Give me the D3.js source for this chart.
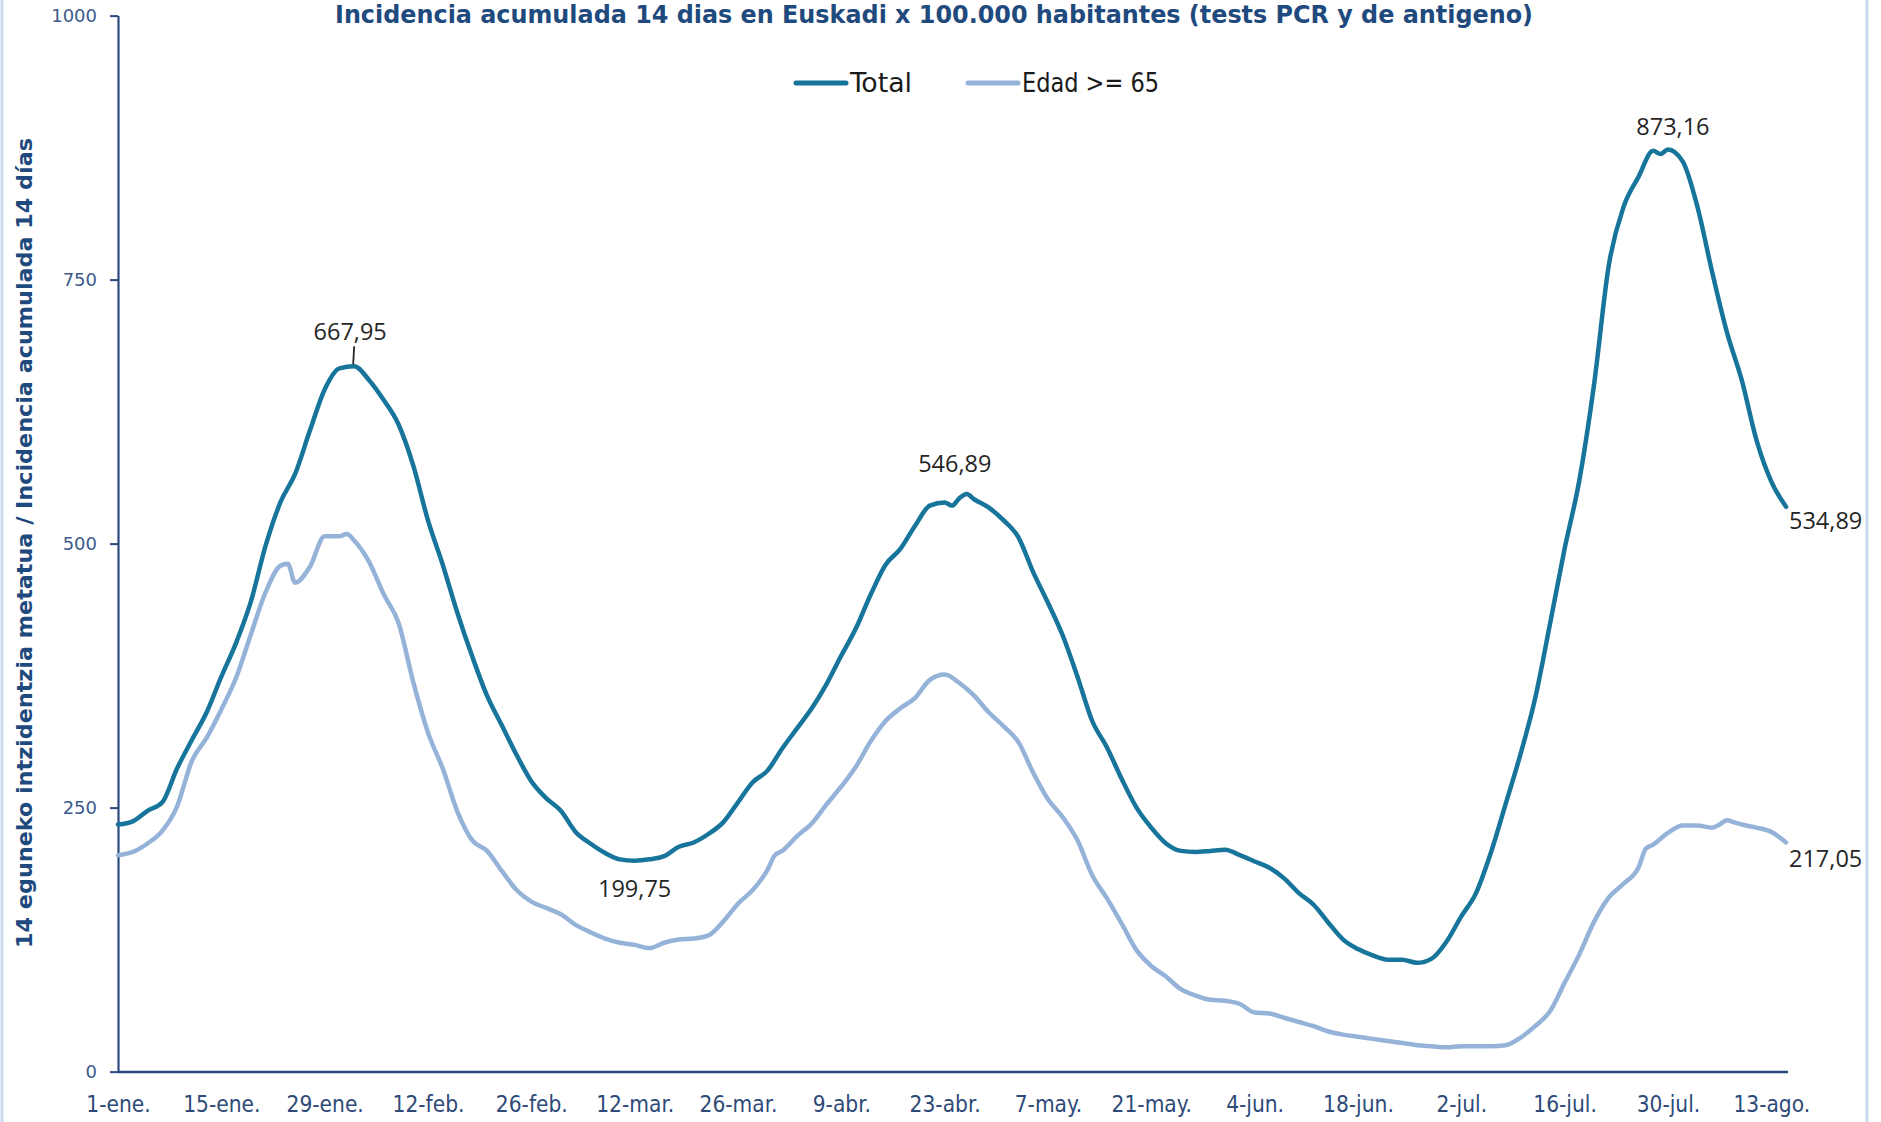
<!DOCTYPE html>
<html>
<head>
<meta charset="utf-8">
<script src="https://cdn.jsdelivr.net/npm/d3@7"></script>
<style>
html,body{margin:0;padding:0;background:#fff;}
svg{display:block;}
</style>
</head>
<body>
<svg id="chart" width="1881" height="1122"></svg>
<script>
// ---------- DATA ----------
const startDate = "2021-01-01";
const endDay = 226; // last day shown (15-ago)
const xTickLabels = ["1-ene.","15-ene.","29-ene.","12-feb.","26-feb.","12-mar.","26-mar.","9-abr.","23-abr.","7-may.","21-may.","4-jun.","18-jun.","2-jul.","16-jul.","30-jul.","13-ago."];
const yTickValues = [0, 250, 500, 750, 1000];

const seriesNames = ["Total", "Edad >= 65"];

// days since 1-ene and 14-day cumulative incidence, Total
const totalDays = [0,2,4,6,8,10,12,14,16,18,20,22,24,26,28,30,32,34,36,38,40,42,44,46,48,50,52,54,56,58,60,62,64,66,68,70,72,74,76,78,80,82,84,86,88,90,92,94,96,98,100,102,104,106,108,110,112,113,114,115,116,118,120,122,124,126,128,130,132,134,136,138,140,142,144,146,148,150,152,154,156,158,160,162,164,166,168,170,172,174,176,178,180,182,184,186,188,190,192,194,196,198,200,202,204,206,208,209,210,212,214,216,218,220,222,224,226];
const totalValues = [234,237,247,255,287,314,340,374,406,445,498,539,566,607,646,666,667.95,655,636,613,574,522,480,434,393,356,328,300,275,259,247,227,216,207,201,199.75,201,204,213,217,225,236,255,274,285,306,325,344,367,394,420,452,480,495,517,536,539,536,543,546.89,542,534,522,506,473,444,413,374,332,307,277,250,231,216,209,208,209,210,205,199,193,183,169,158,141,125,116,110,106,106,103,107,123,147,169,207,253,300,353,423,495,560,651,764,819,847,872,869,873.16,862,819,757,700,655,598,559,534.89];

// Edad >= 65
const over65Days = [0,2,4,6,8,10,12,14,16,18,20,22,23,24,26,28,30,31,32,34,36,38,40,42,44,46,48,50,52,54,56,58,60,62,64,66,68,70,72,74,76,78,80,82,84,86,88,89,90,92,94,96,98,100,102,104,106,108,110,112,114,116,118,120,122,124,126,128,130,132,134,136,138,140,142,144,146,148,150,152,154,156,158,160,162,164,166,168,170,172,174,176,178,180,182,184,186,188,190,192,194,196,198,200,202,204,206,207,208,210,212,214,216,217,218,219,220,222,224,226];
const over65Values = [205,208,216,228,251,294,316,343,373,414,454,479,481,463,478,507,507,509,503,483,452,425,369,321,287,246,219,209,190,172,161,155,149,139,132,126,122,120,117,122,125,126,129,142,159,172,191,205,209,223,235,253,270,289,313,332,344,354,371,376,368,356,340,327,312,283,258,241,219,186,164,140,115,100,90,78,72,68,67,64,56,55,51,47,43,38,35,33,31,29,27,25,24,23,24,24,24,25,32,43,57,84,111,142,165,178,193,211,215,226,233,233,231,234,238,236,234,231,227,217.05];

// labelled points
const annotDays   = [32, 70, 115, 210, 226, 226];
const annotValues = [667.95, 199.75, 546.89, 873.16, 534.89, 217.05];

const titleText = "Incidencia acumulada 14 dias en Euskadi x 100.000 habitantes (tests PCR y de antigeno)";
const yTitleText = "14 eguneko intzidentzia metatua / Incidencia acumulada 14 días";

// ---------- DRAW ----------
const svg = d3.select("#chart");
const parse = d3.timeParse("%Y-%m-%d");
const t0 = parse(startDate);
const toDate = d => d3.timeDay.offset(t0, d);

const x = d3.scaleTime().domain([t0, toDate(endDay)]).range([118, 1786]);
const y = d3.scaleLinear().domain([0, 1000]).range([1071.6, 15.6]);

const narrow = '"DejaVu Sans Condensed", "Liberation Sans Narrow", sans-serif';
const navy = "#1F4A7E";
const colTotal = "#17749B";
const col65 = "#95B3D9";
const colors = [colTotal, col65];

// outer border of chart area (left/right visible)
svg.append("line").attr("x1", 2).attr("x2", 2).attr("y1", 0).attr("y2", 1122)
  .attr("stroke", "#C9DAF0").attr("stroke-width", 3);
svg.append("line").attr("x1", 1867).attr("x2", 1867).attr("y1", 0).attr("y2", 1122)
  .attr("stroke", "#C9DAF0").attr("stroke-width", 3);

// title
svg.append("text").attr("x", 934).attr("y", 23)
  .attr("text-anchor", "middle")
  .attr("font-family", narrow).attr("font-weight", "bold").attr("font-size", 25)
  .attr("fill", navy)
  .attr("textLength", 1198).attr("lengthAdjust", "spacingAndGlyphs")
  .text(titleText);

// y axis title
svg.append("text")
  .attr("transform", "translate(32,543) rotate(-90)")
  .attr("text-anchor", "middle")
  .attr("font-family", narrow).attr("font-weight", "bold").attr("font-size", 22)
  .attr("fill", navy)
  .attr("textLength", 810).attr("lengthAdjust", "spacingAndGlyphs")
  .text(yTitleText);

// y axis
const yAxis = svg.append("g").attr("transform", "translate(118,0)")
  .call(d3.axisLeft(y).tickValues(yTickValues).tickSize(8).tickSizeOuter(0)
    .tickPadding(13).tickFormat(d3.format("d")));
yAxis.select(".domain").attr("stroke", "#2B4A7E").attr("stroke-width", 2.2);
yAxis.selectAll(".tick line").attr("stroke", "#2B4A7E").attr("stroke-width", 2);
yAxis.selectAll(".tick text")
  .attr("font-family", '"DejaVu Sans", sans-serif').attr("font-size", 18)
  .attr("fill", "#3C5A8C");

// x axis
const xTickDates = xTickLabels.map((_, i) => toDate(i * 14));
const xAxis = svg.append("g").attr("transform", "translate(0,1072)")
  .call(d3.axisBottom(x).tickValues(xTickDates).tickSize(0).tickSizeOuter(0)
    .tickPadding(24).tickFormat((d, i) => xTickLabels[i]));
xAxis.select(".domain").attr("stroke", "#2B4A7E").attr("stroke-width", 2.6)
  .attr("d", `M${x.range()[0]},0H${x.range()[1] + 2}`);
xAxis.selectAll(".tick text")
  .attr("font-family", narrow).attr("font-size", 22.5)
  .attr("fill", "#2E4A78");

// lines
const line = d3.line()
  .x(d => x(toDate(d[0])))
  .y(d => y(d[1]))
  .curve(d3.curveMonotoneX);

const seriesData = [
  totalDays.map((d, i) => [d, totalValues[i]]),
  over65Days.map((d, i) => [d, over65Values[i]])
];

svg.append("path").datum(seriesData[1])
  .attr("fill", "none").attr("stroke", col65).attr("stroke-width", 4.5)
  .attr("stroke-linejoin", "round").attr("stroke-linecap", "round")
  .attr("d", line);
svg.append("path").datum(seriesData[0])
  .attr("fill", "none").attr("stroke", colTotal).attr("stroke-width", 4.5)
  .attr("stroke-linejoin", "round").attr("stroke-linecap", "round")
  .attr("d", line);

// legend
const legendX = [796, 968];
const legendTextLen = [62, 137];
seriesNames.forEach((name, i) => {
  svg.append("line").attr("x1", legendX[i]).attr("x2", legendX[i] + 50)
    .attr("y1", 83).attr("y2", 83)
    .attr("stroke", colors[i]).attr("stroke-width", 5).attr("stroke-linecap", "round");
  svg.append("text").attr("x", legendX[i] + 54).attr("y", 92)
    .attr("font-family", narrow).attr("font-size", 26).attr("fill", "#1a1a1a")
    .attr("textLength", legendTextLen[i]).attr("lengthAdjust", "spacingAndGlyphs")
    .text(name);
});

// annotations
const fmt = d3.formatLocale({decimal: ",", thousands: ".", grouping: [3], currency: ["", "€"]}).format(".2f");
const annotDx = [-4, 0, -12, 5, 3, 3];
const annotDy = [-26, 36, -22, -15, 22, 25];
const annotAnchor = ["middle", "middle", "middle", "middle", "start", "start"];
annotValues.forEach((v, i) => {
  const px = x(toDate(annotDays[i])), py = y(v);
  svg.append("text")
    .attr("x", px + annotDx[i]).attr("y", py + annotDy[i])
    .attr("text-anchor", annotAnchor[i])
    .attr("font-family", '"Open Sans", sans-serif').attr("font-size", 23.5)
    .attr("fill", "#262626")
    .text(fmt(v));
});
// leader line for first peak
{
  const px = x(toDate(annotDays[0])), py = y(annotValues[0]);
  svg.append("line").attr("x1", px - 1).attr("y1", py - 2).attr("x2", px).attr("y2", py - 20)
    .attr("stroke", "#262626").attr("stroke-width", 1.8);
}
</script>
</body>
</html>
